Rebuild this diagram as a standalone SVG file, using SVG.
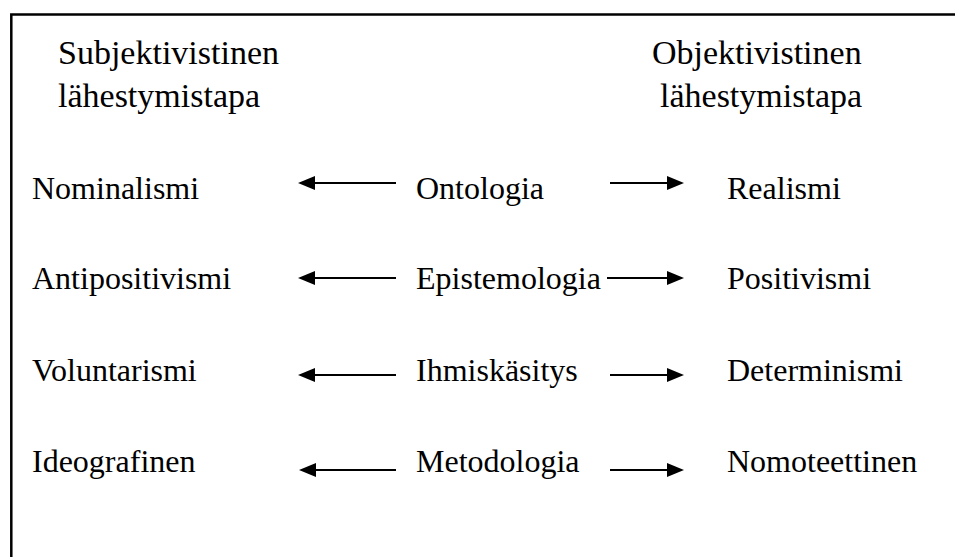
<svg xmlns="http://www.w3.org/2000/svg" width="955" height="557" viewBox="0 0 955 557">
<style>
.h{font-size:34px}
.t{font-size:32px}
.c line{stroke:#000;stroke-width:2.2;marker-end:url(#ah)}
</style>
<defs>
<marker id="ah" markerUnits="userSpaceOnUse" markerWidth="17" markerHeight="14" refX="8" refY="7" orient="auto" viewBox="0 0 17 14">
<path d="M0,0 L17,7 L0,14 Z" fill="#000"/>
</marker>
</defs>
<rect width="955" height="557" fill="#fff"/>
<path d="M11.3,560 V14.5 H960" fill="none" stroke="#000" stroke-width="2.5"/>
<g font-family="Liberation Serif, Tinos, Times New Roman, DejaVu Serif, serif" fill="#000">
<g id="hdr-left"><text class="h" x="58" y="64">Subjektivistinen</text><text class="h" x="58" y="107">lähestymistapa</text></g>
<g id="hdr-right"><text class="h" x="652" y="64">Objektivistinen</text><text class="h" x="660" y="107">lähestymistapa</text></g>
<g id="n-nominalismi"><text class="t" x="32" y="199">Nominalismi</text></g>
<g id="n-ontologia"><text class="t" x="416" y="199">Ontologia</text></g>
<g id="n-realismi"><text class="t" x="727" y="199">Realismi</text></g>
<g id="n-antipositivismi"><text class="t" x="32" y="289">Antipositivismi</text></g>
<g id="n-epistemologia"><text class="t" x="416" y="289">Epistemologia</text></g>
<g id="n-positivismi"><text class="t" x="727" y="289">Positivismi</text></g>
<g id="n-voluntarismi"><text class="t" x="32" y="381">Voluntarismi</text></g>
<g id="n-ihmiskasitys"><text class="t" x="416" y="381">Ihmiskäsitys</text></g>
<g id="n-determinismi"><text class="t" x="727" y="381">Determinismi</text></g>
<g id="n-ideografinen"><text class="t" x="32" y="472">Ideografinen</text></g>
<g id="n-metodologia"><text class="t" x="416" y="472">Metodologia</text></g>
<g id="n-nomoteettinen"><text class="t" x="727" y="472">Nomoteettinen</text></g>
</g>
<g id="connectors" class="c">
<line x1="396" y1="183" x2="307" y2="183"/>
<line x1="610" y1="183" x2="675" y2="183"/>
<line x1="396" y1="278" x2="307" y2="278"/>
<line x1="607" y1="278" x2="675" y2="278"/>
<line x1="396" y1="375" x2="307" y2="375"/>
<line x1="610" y1="375" x2="675" y2="375"/>
<line x1="396" y1="470" x2="308" y2="470"/>
<line x1="610" y1="470" x2="675" y2="470"/>
</g>
</svg>
